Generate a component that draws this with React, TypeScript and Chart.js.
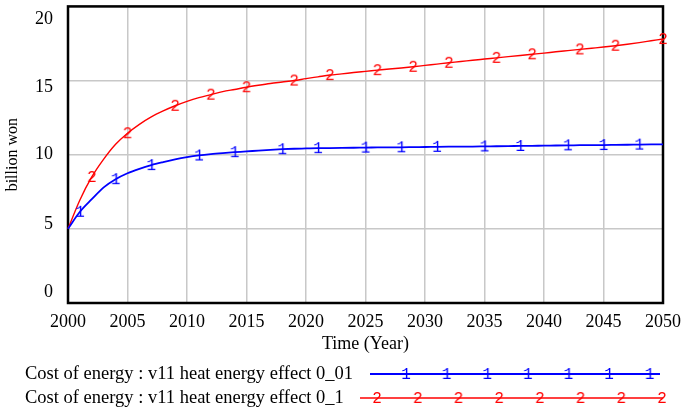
import { useEffect, useRef } from 'react';
import { Chart, registerables } from 'chart.js';

Chart.register(...registerables);

// ---------- data ----------
const years = [
  2000, 2001, 2002, 2003, 2004, 2005, 2006, 2007, 2008, 2009,
  2010, 2011, 2012, 2013, 2014, 2015, 2016, 2017, 2018, 2019,
  2020, 2021, 2022, 2023, 2024, 2025, 2026, 2027, 2028, 2029,
  2030, 2031, 2032, 2033, 2034, 2035, 2036, 2037, 2038, 2039,
  2040, 2041, 2042, 2043, 2044, 2045, 2046, 2047, 2048, 2049, 2050,
];

const seriesLabels = [
  'Cost of energy : v11 heat energy effect 0_01',
  'Cost of energy : v11 heat energy effect 0_1',
];

// effect 0_01 (blue, marker "1")
const blueValues = [
  5.0, 6.15, 7.0, 7.8, 8.35, 8.75, 9.05, 9.3, 9.5, 9.68,
  9.83, 9.95, 10.04, 10.11, 10.17, 10.22, 10.28, 10.33, 10.37, 10.4,
  10.42, 10.44, 10.45, 10.46, 10.47, 10.48, 10.49, 10.5, 10.5, 10.51,
  10.52, 10.53, 10.54, 10.55, 10.55, 10.56, 10.57, 10.58, 10.59, 10.6,
  10.61, 10.62, 10.63, 10.64, 10.65, 10.65, 10.66, 10.67, 10.68, 10.69, 10.7,
];

// effect 0_1 (red, marker "2")
const redValues = [
  5.0, 6.95, 8.5, 9.7, 10.7, 11.45, 12.05, 12.55, 12.95, 13.3,
  13.6, 13.85, 14.05, 14.25, 14.4, 14.55, 14.68, 14.8, 14.9, 15.0,
  15.13, 15.25, 15.37, 15.45, 15.54, 15.62, 15.7, 15.78, 15.85, 15.93,
  16.02, 16.11, 16.2, 16.28, 16.37, 16.45, 16.53, 16.61, 16.69, 16.77,
  16.85, 16.94, 17.02, 17.1, 17.18, 17.26, 17.35, 17.45, 17.56, 17.68, 17.8,
];

const blueMarkerYears = [2001, 2004, 2007, 2011, 2014, 2018, 2021, 2025, 2028, 2031, 2035, 2038, 2042, 2045, 2048];
const redMarkerYears = [2002, 2005, 2009, 2012, 2015, 2019, 2022, 2026, 2029, 2032, 2036, 2039, 2043, 2046, 2050];

const markerChars = ['1', '2'];

const xTickValues = [2000, 2005, 2010, 2015, 2020, 2025, 2030, 2035, 2040, 2045, 2050];
const yTickValues = [0, 5, 10, 15, 20];

// ---------- style ----------
const BLUE = '#0000ff';
const RED = '#ff0000';
const SERIF = '"Liberation Serif", "Times New Roman", serif';
const GRID = '#c8c8c8';

// vertical shift (px) of y tick labels relative to their gridline
const yLabelShift: Record<number, number> = { 20: 13, 15: 7, 10: 1, 5: -5, 0: -11 };

// legend sample geometry
const legendRows = [
  { y: 374, x1: 370, x2: 660, first: 406, step: 40.6, count: 7 },
  { y: 398, x1: 360, x2: 663, first: 377, step: 40.7, count: 8 },
];

function makeMarker(ch: string, color: string): HTMLCanvasElement {
  const c = document.createElement('canvas');
  c.width = 12;
  c.height = 18;
  const g = c.getContext('2d')!;
  g.fillStyle = color;
  g.font = '16px "Liberation Mono", "DejaVu Sans Mono", monospace';
  g.textAlign = 'center';
  g.textBaseline = 'middle';
  g.fillText(ch, 6, 9.5);
  return c;
}

export default function App() {
  const ref = useRef<HTMLCanvasElement>(null);

  useEffect(() => {
    if (!ref.current) return;
    const colors = [BLUE, RED];
    const markers = [makeMarker(markerChars[0], BLUE), makeMarker(markerChars[1], RED)];
    const markerYears = [blueMarkerYears, redMarkerYears];
    const seriesValues = [blueValues, redValues];

    const framePlugin = {
      id: 'frame',
      beforeDatasetsDraw(chart: any) {
        const { ctx, chartArea: a } = chart;
        ctx.save();
        ctx.strokeStyle = '#000';
        ctx.lineWidth = 2.5;
        ctx.strokeRect(a.left, a.top, a.right - a.left, a.bottom - a.top);
        ctx.restore();
      },
    };

    const legendPlugin = {
      id: 'vensimLegend',
      afterDraw(chart: any) {
        const ctx = chart.ctx;
        ctx.save();
        chart.data.datasets.forEach((ds: any, i: number) => {
          const r = legendRows[i];
          ctx.font = `18.5px ${SERIF}`;
          ctx.textBaseline = 'middle';
          ctx.textAlign = 'left';
          ctx.fillStyle = '#000';
          ctx.fillText(ds.label, 25, r.y);
          ctx.strokeStyle = ds.borderColor;
          ctx.lineWidth = ds.borderWidth;
          ctx.beginPath();
          ctx.moveTo(r.x1, r.y);
          ctx.lineTo(r.x2, r.y);
          ctx.stroke();
          const m = markers[i];
          for (let k = 0; k < r.count; k++) {
            const mx = r.first + k * r.step;
            ctx.drawImage(m, mx - m.width / 2, r.y - m.height / 2);
          }
        });
        ctx.restore();
      },
    };

    const chart = new Chart(ref.current, {
      type: 'line',
      data: {
        datasets: seriesLabels.map((label, i) => ({
          label,
          data: years.map((x, j) => ({ x, y: seriesValues[i][j] })),
          borderColor: colors[i],
          backgroundColor: colors[i],
          borderWidth: i === 0 ? 1.8 : 1.4,
          cubicInterpolationMode: 'monotone' as const,
          pointStyle: markers[i],
          pointRadius: (c: any) => (markerYears[i].includes(c.parsed?.x) ? 5 : 0),
          pointHoverRadius: 0,
          clip: false as any,
        })),
      },
      options: {
        animation: false,
        responsive: false,
        events: [],
        layout: { padding: { left: 0, right: 22, top: 3, bottom: 50 } },
        plugins: {
          legend: { display: false },
          tooltip: { enabled: false },
        },
        scales: {
          x: {
            type: 'linear',
            min: 2000,
            max: 2050,
            afterBuildTicks: (s: any) => {
              s.ticks = xTickValues.map((v) => ({ value: v }));
            },
            afterFit: (s: any) => {
              s.height = 57;
              s.paddingLeft = 0;
              s.paddingRight = 0;
            },
            grid: { color: GRID, lineWidth: 1.5, drawTicks: false },
            border: { display: false },
            ticks: {
              color: '#000',
              padding: 8,
              maxRotation: 0,
              autoSkip: false,
              font: { family: SERIF, size: 18 },
              callback: (v: any) => String(v),
            },
            title: {
              display: true,
              text: 'Time (Year)',
              color: '#000',
              font: { family: SERIF, size: 18 },
              padding: { top: 0, bottom: 5 },
            },
          },
          y: {
            type: 'linear',
            min: 0,
            max: 20,
            afterBuildTicks: (s: any) => {
              s.ticks = yTickValues.map((v) => ({ value: v }));
            },
            afterFit: (s: any) => {
              s.width = 68;
              s.paddingTop = 0;
              s.paddingBottom = 0;
            },
            grid: { color: GRID, lineWidth: 1.5, drawTicks: false },
            border: { display: false },
            ticks: {
              color: '#000',
              padding: 15,
              autoSkip: false,
              font: (c: any) => {
                const v = c.tick ? c.tick.value : 10;
                const off = Math.abs(yLabelShift[v] ?? 0);
                return {
                  family: SERIF,
                  size: 18,
                  lineHeight: off > 2 ? `${off * 2}px` : 1.2,
                };
              },
              callback: (v: any) => {
                const off = yLabelShift[v] ?? 0;
                if (off > 2) return ['', String(v)];
                if (off < -2) return [String(v), ''];
                return String(v);
              },
            },
            title: {
              display: true,
              text: 'billion won',
              color: '#000',
              font: { family: SERIF, size: 16 },
              padding: { top: 3, bottom: 0 },
            },
          },
        },
      },
      plugins: [framePlugin, legendPlugin],
    } as any);

    return () => chart.destroy();
  }, []);

  return (
    <div style={{ position: 'fixed', left: 0, top: 0, width: 685, height: 410, background: '#fff' }}>
      <canvas ref={ref} width={685} height={410} style={{ display: 'block' }} />
    </div>
  );
}
